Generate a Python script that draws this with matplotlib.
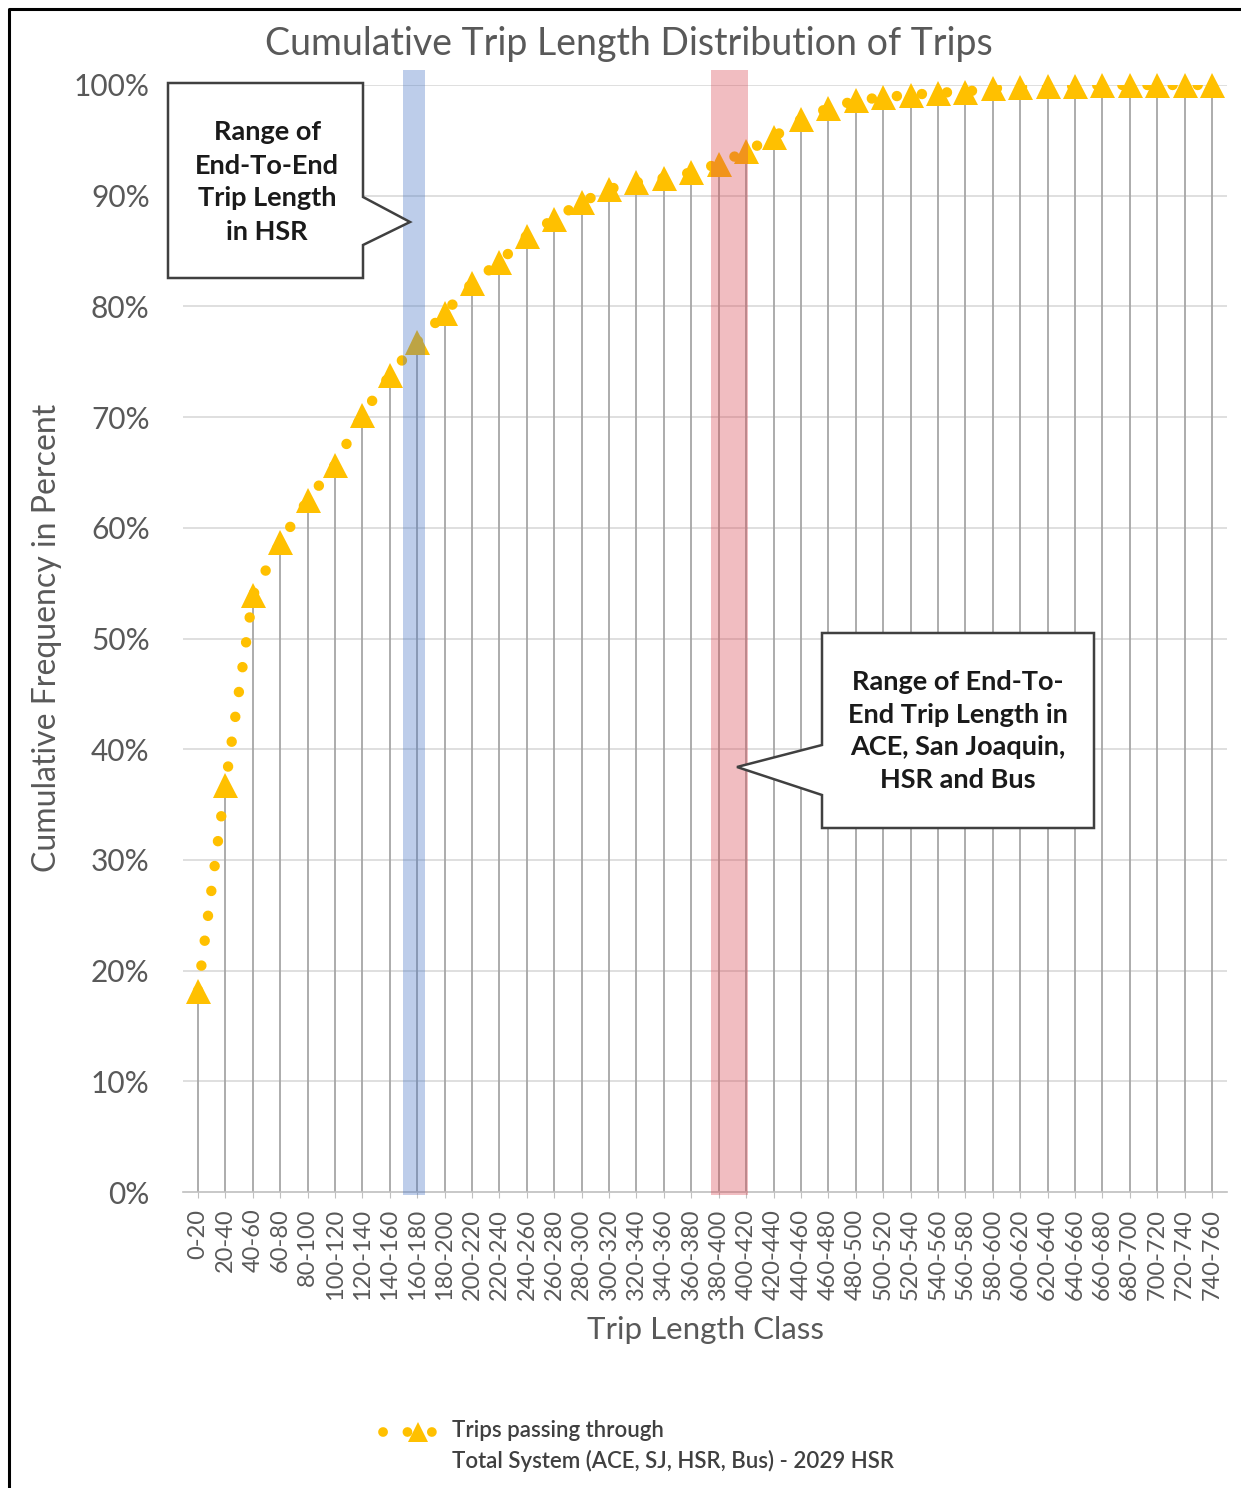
import matplotlib
matplotlib.use("Agg")
import matplotlib.pyplot as plt
from matplotlib.lines import Line2D
from matplotlib.patches import Polygon

plt.rcParams['font.family'] = ['Lato', 'DejaVu Sans']

W, H = 1241, 1488

# trip length classes (miles) and cumulative share of trips (%)
classes = ["%d-%d" % (a, a + 20) for a in range(0, 760, 20)]
cum_pct = [18.2, 36.8, 53.9, 58.7, 62.5, 65.7, 70.2, 73.8, 76.8, 79.4,
           82.1, 84.0, 86.4, 87.9, 89.4, 90.6, 91.2, 91.6, 92.1, 92.9,
           94.0, 95.3, 96.9, 97.9, 98.6, 98.9, 99.1, 99.3, 99.4, 99.7,
           99.8, 99.9, 99.9, 100.0, 100.0, 100.0, 100.0, 100.0]
yticks = list(range(0, 101, 10))

# highlighted class ranges (in category index units)
hsr_band = (7.48, 8.28)
all_band = (18.72, 20.07)

series_label = "Trips passing through\nTotal System (ACE, SJ, HSR, Bus) - 2029 HSR"
hsr_note = "Range of\nEnd-To-End\nTrip Length\nin HSR"
all_note = "Range of End-To-\nEnd Trip Length in\nACE, San Joaquin,\nHSR and Bus"

GOLD = '#FFC000'
TXT = '#595959'


def fx(px):
    return px / W


def fy(py):
    return 1 - py / H


fig = plt.figure(figsize=(W / 100, H / 100), dpi=100)
ax = fig.add_axes([fx(183), fy(1192), fx(1227) - fx(183), fy(85) - fy(1192)])

x = list(range(len(classes)))
ax.set_xlim(-0.55, len(classes) - 0.45)
ax.set_ylim(0, 100)

for t in yticks[1:]:
    ax.axhline(t, color='#d9d9d9', lw=1.2, zorder=1)

# drop lines
ax.vlines(x, 0, cum_pct, color='#a6a6a6', lw=1.3, zorder=2)

ax.plot(x, cum_pct, color=GOLD, lw=7.5, linestyle=(0, (0.01, 2.4)),
        dash_capstyle='round', zorder=3)
ax.plot(x, cum_pct, color=GOLD, lw=0, marker='^', ms=18, mew=0, zorder=4,
        clip_on=False)

ax.axvspan(*hsr_band, ymin=-0.003, ymax=1.014, color='#4472C4', alpha=0.35,
           lw=0, zorder=5, clip_on=False)
ax.axvspan(*all_band, ymin=-0.003, ymax=1.014, color='#D9444F', alpha=0.35,
           lw=0, zorder=5, clip_on=False)

for s in ['top', 'right', 'left']:
    ax.spines[s].set_visible(False)
ax.spines['bottom'].set_color('#bfbfbf')
ax.spines['bottom'].set_linewidth(1.2)

ax.set_yticks(yticks)
ax.set_yticklabels(["%d%%" % t for t in yticks])
ax.set_xticks(x)
ax.set_xticklabels(classes, rotation=90)
ax.tick_params(axis='y', length=0, pad=24, labelsize=21.5, labelcolor=TXT)
ax.tick_params(axis='x', length=4, color='#bfbfbf', pad=8, labelsize=17,
               labelcolor=TXT)

fig.text(fx(629), fy(44), "Cumulative Trip Length Distribution of Trips",
         ha='center', va='center', fontsize=27, color=TXT)
fig.text(fx(47), fy(638), "Cumulative Frequency in Percent", rotation=90,
         ha='center', va='center', fontsize=23, color=TXT)
fig.text(fx(705), fy(1330), "Trip Length Class", ha='center', va='center',
         fontsize=22.5, color=TXT)

# callouts
box1 = [(168, 83), (363, 83), (363, 197), (410, 222), (363, 245),
        (363, 278), (168, 278)]
box2 = [(822, 633), (1094, 633), (1094, 828), (822, 828), (822, 795),
        (737, 767), (822, 745)]
for pts in (box1, box2):
    fig.add_artist(Polygon([(fx(a), fy(b)) for a, b in pts], closed=True,
                           transform=fig.transFigure, facecolor='white',
                           edgecolor='#404040', lw=1.8, zorder=10))
fig.text(fx(267), fy(182), hsr_note, ha='center', va='center', fontsize=19.5,
         fontweight='bold', color='#1a1a1a', linespacing=1.45, zorder=11)
fig.text(fx(958), fy(731), all_note, ha='center', va='center', fontsize=19.5,
         fontweight='bold', color='#1a1a1a', linespacing=1.42, zorder=11)

# legend
fig.add_artist(Line2D([fx(383), fx(418), fx(442)], [fy(1432)] * 3,
                      transform=fig.transFigure, color=GOLD, lw=7,
                      linestyle=(0, (0.01, 2.5)), dash_capstyle='round',
                      marker='^', ms=14, mew=0, markevery=[1]))
fig.text(fx(452), fy(1446), series_label, ha='left', va='center',
         fontsize=16, color='#404040', fontweight='semibold', linespacing=1.45)

# outer frame
fig.add_artist(Line2D([fx(9), fx(9), fx(1241)], [fy(1488), fy(9), fy(9)],
                      transform=fig.transFigure, color='black', lw=2.2))

fig.savefig("out.png", dpi=100)
